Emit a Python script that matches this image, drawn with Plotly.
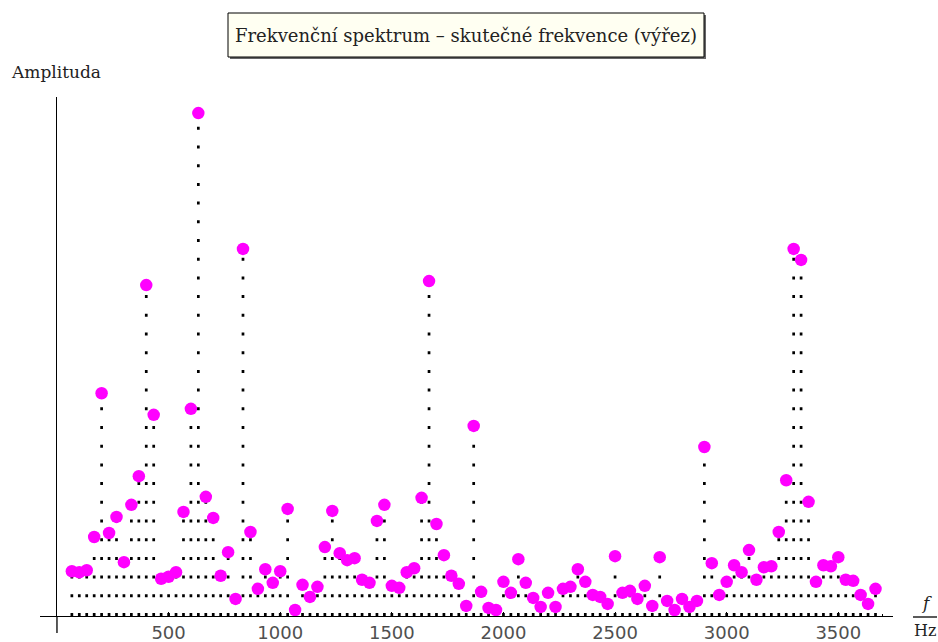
import plotly.graph_objects as go

# Spectrum bins (Hz) and their amplitudes (arbitrary units, strongest line = 100)
freq_hz = [
    66.7, 100.0, 133.3, 166.7, 200.0, 233.3, 266.7, 300.0, 333.3, 366.7,
    400.0, 433.3, 466.7, 500.0, 533.3, 566.7, 600.0, 633.3, 666.7, 700.0,
    733.3, 766.7, 800.0, 833.3, 866.7, 900.0, 933.3, 966.7, 1000.0, 1033.3,
    1066.7, 1100.0, 1133.3, 1166.7, 1200.0, 1233.3, 1266.7, 1300.0, 1333.3, 1366.7,
    1400.0, 1433.3, 1466.7, 1500.0, 1533.3, 1566.7, 1600.0, 1633.3, 1666.7, 1700.0,
    1733.3, 1766.7, 1800.0, 1833.3, 1866.7, 1900.0, 1933.3, 1966.7, 2000.0, 2033.3,
    2066.7, 2100.0, 2133.3, 2166.7, 2200.0, 2233.3, 2266.7, 2300.0, 2333.3, 2366.7,
    2400.0, 2433.3, 2466.7, 2500.0, 2533.3, 2566.7, 2600.0, 2633.3, 2666.7, 2700.0,
    2733.3, 2766.7, 2800.0, 2833.3, 2866.7, 2900.0, 2933.3, 2966.7, 3000.0, 3033.3,
    3066.7, 3100.0, 3133.3, 3166.7, 3200.0, 3233.3, 3266.7, 3300.0, 3333.3, 3366.7,
    3400.0, 3433.3, 3466.7, 3500.0, 3533.3, 3566.7, 3600.0, 3633.3, 3666.7,
]

amplitude = [
    8.9, 8.7, 9.1, 15.7, 44.3, 16.5, 19.7, 10.7, 22.1, 27.8,
    65.8, 40.0, 7.4, 7.8, 8.7, 20.7, 41.2, 100.0, 23.7, 19.5,
    8.0, 12.7, 3.4, 73.0, 16.7, 5.4, 9.3, 6.6, 8.9, 21.3,
    1.2, 6.2, 3.8, 5.8, 13.7, 20.9, 12.5, 11.1, 11.5, 7.2,
    6.6, 18.9, 22.1, 6.0, 5.6, 8.7, 9.5, 23.5, 66.6, 18.3,
    12.1, 8.0, 6.4, 2.0, 37.8, 4.8, 1.6, 1.2, 6.8, 4.6,
    11.3, 6.6, 3.6, 1.8, 4.6, 1.8, 5.4, 5.8, 9.3, 6.8,
    4.2, 3.8, 2.4, 11.9, 4.6, 5.0, 3.4, 6.0, 2.0, 11.7,
    3.0, 1.2, 3.4, 1.8, 3.0, 33.6, 10.5, 4.2, 6.8, 10.1,
    8.7, 13.1, 7.2, 9.7, 9.9, 16.7, 27.0, 73.0, 70.8, 22.7,
    6.8, 10.1, 9.9, 11.7, 7.2, 7.0, 4.2, 2.4, 5.4,
]

x_ticks = [500, 1000, 1500, 2000, 2500, 3000, 3500]
x_tick_text = ["500", "1000", "1500", "2000", "2500", "3000", "3500"]

title_text = "Frekvenční spektrum – skutečné frekvence (výřez)"
y_label = "Amplituda"

# Stems: one sub-path per bin, each starting at the axis so the dots line up
stem_x, stem_y = [], []
for f, a in zip(freq_hz, amplitude):
    stem_x += [f, f, None]
    stem_y += [0, a, None]

fig = go.Figure()
fig.add_trace(go.Scatter(
    x=stem_x, y=stem_y, mode="lines",
    line=dict(color="black", width=2.7, dash="3px,15.7px"),
    hoverinfo="skip", showlegend=False,
))
fig.add_trace(go.Scatter(
    x=freq_hz, y=amplitude, mode="markers",
    marker=dict(color="#FF00FF", size=12.5, line=dict(width=0)),
    showlegend=False,
))

L, R, T, B = 40, 45, 97, 26
W, H = 938, 642
pw, ph = W - L - R, H - T - B


def px_x(p):
    return (p - L) / pw


def px_y(p):
    return (H - B - p) / ph


fig.update_layout(
    width=W, height=H,
    margin=dict(l=L, r=R, t=T, b=B, pad=0),
    paper_bgcolor="white", plot_bgcolor="white",
    showlegend=False,
    xaxis=dict(
        range=[-76, 3745],
        tickvals=x_ticks, ticktext=x_tick_text,
        ticks="inside", ticklen=4, tickwidth=1, tickcolor="black",
        minor=dict(dtick=100, tick0=0, ticks="inside", ticklen=2, tickcolor="black"),
        tickfont=dict(family="DejaVu Sans", size=18, color="#505050"),
        showgrid=False,
        showline=True, linecolor="black", linewidth=1.3,
        zeroline=True, zerolinecolor="black", zerolinewidth=1.3,
        automargin=False,
    ),
    yaxis=dict(
        range=[0, 103.2],
        showticklabels=False, ticks="",
        showgrid=False, zeroline=False, showline=False,
        automargin=False,
    ),
)

# y-axis continues slightly below the frequency axis
fig.add_shape(type="line", xref="x", yref="paper",
              x0=0, x1=0, y0=px_y(633), y1=0,
              line=dict(color="black", width=1.3))

# title box with a small drop shadow
bx0, bx1, by0, by1 = 228, 704, 13, 57
fig.add_shape(type="rect", xref="paper", yref="paper",
              x0=px_x(bx0 + 2), x1=px_x(bx1 + 2), y0=px_y(by1 + 2), y1=px_y(by0 + 2),
              fillcolor="#666666", line=dict(width=0), layer="above")
fig.add_shape(type="rect", xref="paper", yref="paper",
              x0=px_x(bx0), x1=px_x(bx1), y0=px_y(by1), y1=px_y(by0),
              fillcolor="#FFFFF2", line=dict(color="black", width=1), layer="above")
fig.add_annotation(
    text=title_text, xref="paper", yref="paper",
    x=px_x((bx0 + bx1) / 2), y=px_y((by0 + by1) / 2),
    xanchor="center", yanchor="middle", showarrow=False,
    font=dict(family="DejaVu Serif", size=18, color="#222222"),
)

fig.add_annotation(
    text=y_label, xref="paper", yref="paper",
    x=px_x(9), y=px_y(72), xanchor="left", yanchor="middle", showarrow=False,
    font=dict(family="DejaVu Serif", size=17, color="#222222"),
)

# f / Hz unit label at the end of the frequency axis
fig.add_annotation(
    text="<i>f</i>", xref="paper", yref="paper",
    x=px_x(926), y=px_y(603), xanchor="center", yanchor="middle", showarrow=False,
    font=dict(family="DejaVu Serif", size=17, color="#222222"),
)
fig.add_shape(type="line", xref="paper", yref="paper",
              x0=px_x(913), x1=px_x(937), y0=px_y(617), y1=px_y(617),
              line=dict(color="black", width=1.3))
fig.add_annotation(
    text="Hz", xref="paper", yref="paper",
    x=px_x(925), y=px_y(630), xanchor="center", yanchor="middle", showarrow=False,
    font=dict(family="DejaVu Serif", size=16, color="#222222"),
)

fig.write_html("out.html")
